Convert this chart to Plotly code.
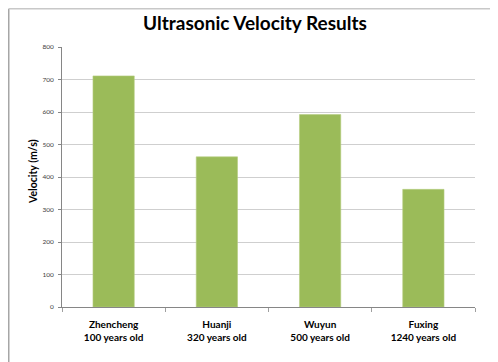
import plotly.graph_objects as go

categories = ["Zhencheng", "Huanji", "Wuyun", "Fuxing"]
ages = ["100 years old", "320 years old", "500 years old", "1240 years old"]
velocity = [711, 462, 592, 362]
y_ticks = [0, 100, 200, 300, 400, 500, 600, 700, 800]

labels = [f"<b>{c}<br>{a}</b>" for c, a in zip(categories, ages)]

# page body has an 8px margin, so the figure fills the visible 490x354 area
W, H = 490, 354
L, R, T, B = 54, 23, 39, 55
pw, ph = W - L - R, H - T - B

def px(x):
    return (x - L) / pw

def py(y):
    return (H - B - y) / ph

fig = go.Figure(go.Bar(
    x=categories, y=velocity,
    marker=dict(color="#9BBB59", line=dict(color="#B5CC82", width=0.6)),
    hoverinfo="skip",
))

fig.update_layout(
    width=W, height=H,
    margin=dict(l=L, r=R, t=T, b=B, autoexpand=False),
    paper_bgcolor="white", plot_bgcolor="white",
    showlegend=False,
    bargap=0.6,
    font=dict(family="Lato, Open Sans, sans-serif", color="#000000"),
    title=dict(text="<b>Ultrasonic Velocity Results</b>", x=247 / W, xanchor="center",
               y=1 - 15 / H, yanchor="middle", font=dict(size=19, color="#000000")),
    shapes=[
        dict(type="line", xref="paper", yref="paper", x0=px(0.75), x1=px(0.75),
             y0=py(H + 5), y1=py(0.75), line=dict(color="#A6A6A6", width=1.5)),
        dict(type="line", xref="paper", yref="paper", x0=px(0.75), x1=px(W + 5),
             y0=py(0.75), y1=py(0.75), line=dict(color="#C8C8C8", width=1.5)),
    ],
    annotations=[
        dict(text="<b>Velocity (m/s)</b>", xref="paper", yref="paper",
             x=px(25), y=py(164), textangle=-90, showarrow=False,
             xanchor="center", yanchor="middle",
             font=dict(size=10.5, color="#000000")),
    ],
)

fig.update_xaxes(
    type="category", automargin=False,
    tickvals=categories, ticktext=labels,
    tickfont=dict(size=10, color="#000000"),
    ticklabelstandoff=8,
    showline=True, linecolor="#868686", linewidth=1,
    ticks="outside", tickson="boundaries", ticklen=4, tickcolor="#A0A0A0",
    showgrid=False,
)

fig.update_yaxes(
    range=[0, 800], tickvals=y_ticks, automargin=False,
    tickfont=dict(size=6.5, color="#404040"),
    ticklabelstandoff=3,
    showline=True, linecolor="#868686", linewidth=1,
    ticks="outside", ticklen=3, tickcolor="#868686",
    showgrid=True, gridcolor="#CFCFCF", gridwidth=1,
    zeroline=False,
)

fig.write_html("out.html")
